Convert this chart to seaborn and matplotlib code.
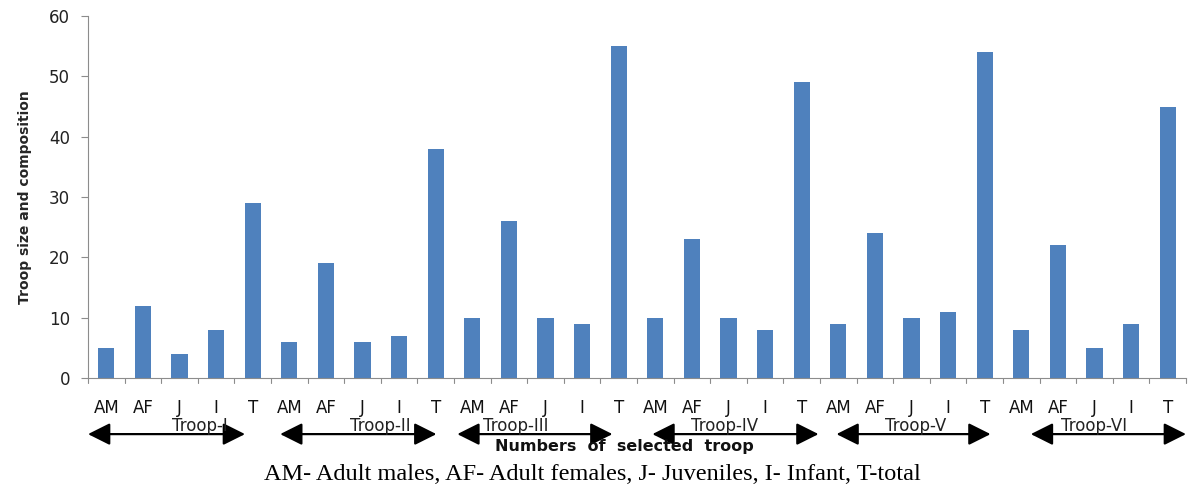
import matplotlib
matplotlib.use("Agg")
import matplotlib.pyplot as plt
import seaborn as sns
import pandas as pd

troops = ["Troop-I", "Troop-II", "Troop-III", "Troop-IV", "Troop-V", "Troop-VI"]
groups = ["AM", "AF", "J", "I", "T"]
troop_I = [5, 12, 4, 8, 29]
troop_II = [6, 19, 6, 7, 38]
troop_III = [10, 26, 10, 9, 55]
troop_IV = [10, 23, 10, 8, 49]
troop_V = [9, 24, 10, 11, 54]
troop_VI = [8, 22, 5, 9, 45]
series = [troop_I, troop_II, troop_III, troop_IV, troop_V, troop_VI]
yticks = [0, 10, 20, 30, 40, 50, 60]
ylabel = "Troop size and composition"
xlabel = "Numbers  of  selected  troop"
caption = "AM- Adult males, AF- Adult females, J- Juveniles, I- Infant, T-total"

rows = []
for t, vals in zip(troops, series):
    for g, v in zip(groups, vals):
        rows.append({"key": f"{t}|{g}", "group": g, "troop": t, "value": v})
df = pd.DataFrame(rows)

sns.set_style("white")
plt.rcParams["font.family"] = ["DejaVu Sans"]

fig = plt.figure(figsize=(11.9, 4.96), dpi=100)
W, H = 1190, 496
ax = fig.add_axes([88 / W, (H - 378) / H, (1186 - 88) / W, (378 - 16) / H])

sns.barplot(data=df, x="key", y="value", order=list(df["key"]), color="#4F81BD",
            saturation=1, width=0.44, linewidth=0, ax=ax)

ax.set_xlim(-0.5, len(df) - 0.5)
ax.set_ylim(0, 60)
ax.set_yticks(yticks)
ax.set_yticklabels([str(v) for v in yticks], fontsize=12, color="#222222")
ax.set_xticks(range(len(df)))
ax.set_xticklabels(df["group"], fontsize=12, color="#111111")
ax.tick_params(axis="x", length=0, pad=15)
ax.tick_params(axis="y", length=5, width=0.8, color="#8c8c8c", pad=8, direction="out", left=True)

# boundary ticks between categories
for b in [i - 0.5 for i in range(len(df) + 1)]:
    ax.plot([b, b], [0, -0.013], transform=ax.get_xaxis_transform(), color="#8c8c8c",
            lw=0.8, clip_on=False)

for s in ["top", "right"]:
    ax.spines[s].set_visible(False)
for s in ["left", "bottom"]:
    ax.spines[s].set_color("#8c8c8c")
    ax.spines[s].set_linewidth(0.8)

ax.set_xlabel("")
ax.set_ylabel(ylabel, fontsize=10, fontweight="bold", labelpad=12)

# troop span arrows (data x coords)
spans = [(-0.5, 3.79), (4.75, 9.02), (9.59, 13.83), (14.92, 19.46), (19.95, 24.16), (25.26, 29.5)]
label_x = [2.55, 7.5, 11.2, 16.9, 22.1, 27.0]
trans = ax.get_xaxis_transform()
arrow_y = -0.155
for (x0, x1), lx, name in zip(spans, label_x, troops):
    ax.annotate("", xy=(x1, arrow_y), xytext=(x0, arrow_y), xycoords=trans, textcoords=trans,
                arrowprops=dict(arrowstyle="<|-|>,head_length=0.9,head_width=0.45",
                                color="black", lw=1.6, shrinkA=0, shrinkB=0,
                                mutation_scale=15),
                annotation_clip=False)
    ax.text(lx, arrow_y + 0.008, name, transform=trans, ha="center", va="baseline",
            fontsize=12, color="#222222", clip_on=False)

fig.text(624 / W, 1 - 447 / H, xlabel, ha="center", va="center", fontsize=11.5,
         fontweight="bold", color="#111111")
fig.text(592 / W, 1 - 474 / H, caption, ha="center", va="center", fontsize=17.5,
         family=["Liberation Serif"], color="black")

fig.savefig("out.png", dpi=100)
